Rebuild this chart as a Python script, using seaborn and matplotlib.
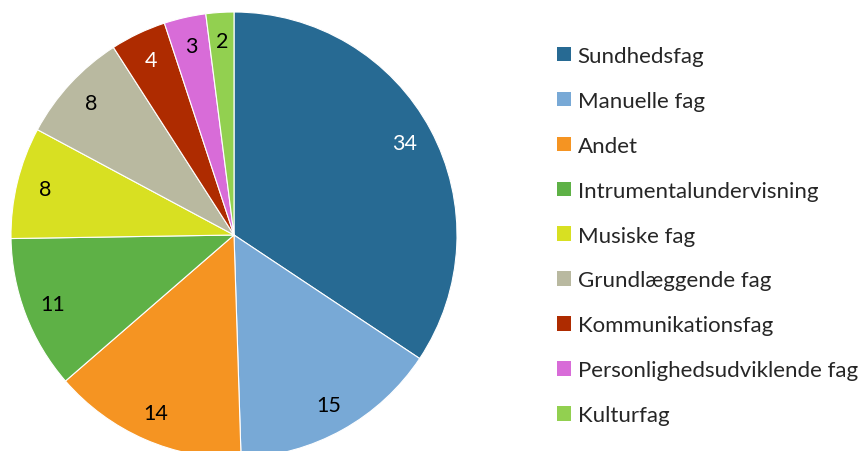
import matplotlib
matplotlib.use('Agg')
from matplotlib import pyplot as plt
from matplotlib.patches import Patch
import seaborn as sns

categories = ['Sundhedsfag', 'Manuelle fag', 'Andet', 'Intrumentalundervisning',
              'Musiske fag', 'Grundlæggende fag', 'Kommunikationsfag',
              'Personlighedsudviklende fag', 'Kulturfag']
values = [34, 15, 14, 11, 8, 8, 4, 3, 2]
colors = ['#276A93', '#78A9D6', '#F59422', '#5EB146', '#D8E022',
          '#B9B9A0', '#AE2B00', '#D86CD8', '#92D050']
label_colors = ['white', 'black', 'black', 'black', 'black',
                'black', 'white', 'black', 'black']

sns.set_theme(style='white')
plt.rcParams['font.family'] = ['Lato', 'DejaVu Sans']

fig = plt.figure(figsize=(8.59, 4.52), dpi=100)
# pie centre at about (234, 236) px, radius 223 px
ax = fig.add_axes([11 / 859, (452 - 459) / 452, 446 / 859, 446 / 452])

palette = sns.color_palette(colors)
wedges, texts, autotexts = ax.pie(
    values,
    colors=palette,
    startangle=90,
    counterclock=False,
    autopct=lambda p: '{:.0f}'.format(p * sum(values) / 100),
    pctdistance=0.87,
    wedgeprops={'edgecolor': 'white', 'linewidth': 0.8},
    textprops={'fontsize': 15.5},
)
for t, c in zip(autotexts, label_colors):
    t.set_color(c)
ax.set_xlim(-1, 1)
ax.set_ylim(-1, 1)
ax.set_aspect('equal')
ax.axis('off')

handles = [Patch(facecolor=c, edgecolor='none') for c in colors]
fig.legend(handles, categories, loc='upper left',
           bbox_to_anchor=(557 / 859, 1 - 47 / 452),
           frameon=False, fontsize=16,
           handlelength=0.63, handleheight=0.63, handletextpad=0.3,
           labelspacing=1.12, borderpad=0, borderaxespad=0)

plt.savefig('out.png', dpi=100)
plt.close()
